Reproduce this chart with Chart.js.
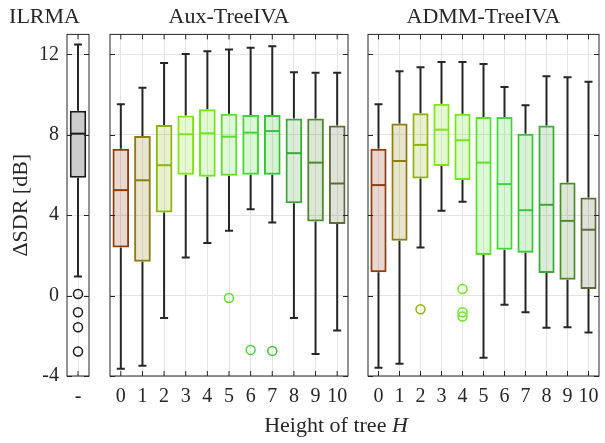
<!DOCTYPE html>
<html>
<head>
<meta charset="utf-8">
<script src="https://cdn.jsdelivr.net/npm/chart.js@4.4.1/dist/chart.umd.min.js"></script>
<style>
  body { margin: 0; background: #fff; }
  #wrap { position: relative; width: 605px; height: 443px; overflow: hidden; }
  canvas { position: absolute; top: 0; }
  #xtitle {
    position: absolute; left: 0; width: 672px; top: 412px;
    text-align: center; color: #262626;
    font: 22px "Liberation Serif", "Times New Roman", serif;
  }
</style>
</head>
<body>
<div id="wrap">
  <canvas id="cA" width="156" height="443" style="left:0px"></canvas>
  <canvas id="cB" width="255" height="443" style="left:100px"></canvas>
  <canvas id="cC" width="247" height="443" style="left:358px"></canvas>
  <div id="xtitle">Height of tree <i>H</i></div>
</div>
<script>
// ---- data ----
const heights = ['0', '1', '2', '3', '4', '5', '6', '7', '8', '9', '10'];
const yTicks = [-4, 0, 4, 8, 12];

// ILRMA (single box)
const ilrmaMin = [0.95];
const ilrmaQ1 = [5.87];
const ilrmaMed = [8.06];
const ilrmaQ3 = [9.2];
const ilrmaMax = [12.5];
const ilrmaOutV = [0.08, -0.83, -1.57, -2.78];

// Aux-TreeIVA
const auxMin = [-3.64, -3.49, -1.11, 1.90, 2.62, 3.23, 4.30, 3.64, -1.11, -2.90, -1.74];
const auxQ1 = [2.40, 1.69, 4.14, 6.01, 5.92, 5.96, 6.01, 6.01, 4.60, 3.69, 3.56];
const auxMed = [5.25, 5.74, 6.49, 8.03, 8.08, 7.91, 8.11, 8.19, 7.09, 6.62, 5.58];
const auxQ3 = [7.31, 7.94, 8.49, 8.97, 9.27, 9.05, 8.99, 8.99, 8.82, 8.82, 8.47];
const auxMax = [9.52, 10.34, 11.58, 12.03, 12.16, 12.25, 12.33, 12.41, 11.12, 11.09, 11.09];
const auxOutH = ['5', '6', '7'];
const auxOutV = [-0.12, -2.70, -2.75];

// ADMM-TreeIVA
const admmMin = [-3.59, -3.39, 2.40, 4.22, 4.67, -3.09, -0.46, -0.83, -1.60, -1.57, -1.84];
const admmQ1 = [1.16, 2.73, 5.83, 6.45, 5.76, 2.02, 2.28, 2.13, 1.13, 0.79, 0.33];
const admmMed = [5.50, 6.70, 7.50, 8.26, 7.73, 6.62, 5.55, 4.25, 4.52, 3.72, 3.28];
const admmQ3 = [7.31, 8.57, 9.07, 9.55, 9.05, 8.89, 8.89, 8.06, 8.47, 5.63, 4.88];
const admmMax = [9.52, 11.17, 11.37, 11.63, 11.63, 11.53, 10.38, 9.48, 10.92, 10.87, 10.64];
const admmOutH = ['2', '4', '4', '4'];
const admmOutV = [-0.68, 0.33, -0.83, -1.04];

// one colour per tree height
const heightColors = ['#8b3e10', '#8c7d0e', '#8cb40c', '#7fe514', '#6ce81e', '#5adf2c',
                      '#44d636', '#36c534', '#3fa63a', '#4e8b2c', '#5c6c3a'];

const AXIS = '#262626';
const SERIF = '"Liberation Serif", "Times New Roman", serif';
Chart.defaults.font.family = SERIF;
Chart.defaults.color = AXIS;

function tint(hex, a) {
  const n = parseInt(hex.slice(1), 16);
  return 'rgba(' + (n >> 16) + ',' + ((n >> 8) & 255) + ',' + (n & 255) + ',' + a + ')';
}

// whiskers, medians, frame and inward tick marks
const boxExtras = {
  id: 'boxExtras',
  beforeDatasetsDraw(chart, args, o) {
    const { ctx, scales: { x, y } } = chart;
    ctx.save();
    ctx.strokeStyle = AXIS;
    ctx.lineWidth = 2;
    o.min.forEach((mn, i) => {
      const px = x.getPixelForValue(i);
      const yMin = y.getPixelForValue(mn), yMax = y.getPixelForValue(o.max[i]);
      ctx.beginPath();
      ctx.moveTo(px, y.getPixelForValue(o.q1[i])); ctx.lineTo(px, yMin);
      ctx.moveTo(px, y.getPixelForValue(o.q3[i])); ctx.lineTo(px, yMax);
      ctx.moveTo(px - 4, yMin); ctx.lineTo(px + 4, yMin);
      ctx.moveTo(px - 4, yMax); ctx.lineTo(px + 4, yMax);
      ctx.stroke();
    });
    ctx.restore();
  },
  afterDatasetsDraw(chart, args, o) {
    const { ctx, scales: { x, y } } = chart;
    const bars = chart.getDatasetMeta(0).data;
    ctx.save();
    ctx.lineWidth = 2;
    o.med.forEach((md, i) => {
      const px = x.getPixelForValue(i);
      const half = bars[i].width / 2 - 1;
      const py = y.getPixelForValue(md);
      ctx.strokeStyle = o.colors[i];
      ctx.beginPath();
      ctx.moveTo(px - half, py); ctx.lineTo(px + half, py);
      ctx.stroke();
    });
    ctx.restore();
  },
  afterDraw(chart) {
    const { ctx, chartArea: a, scales: { x, y } } = chart;
    ctx.save();
    ctx.strokeStyle = AXIS;
    ctx.lineWidth = 1;
    ctx.strokeRect(a.left, a.top, a.right - a.left, a.bottom - a.top);
    ctx.beginPath();
    x.ticks.forEach((t, i) => {
      const px = x.getPixelForTick(i);
      ctx.moveTo(px, a.top); ctx.lineTo(px, a.top + 5);
      ctx.moveTo(px, a.bottom); ctx.lineTo(px, a.bottom - 5);
    });
    y.ticks.forEach(t => {
      const py = Math.round(y.getPixelForValue(t.value)) + 0.5;
      ctx.moveTo(a.left, py); ctx.lineTo(a.left + 5, py);
      ctx.moveTo(a.right, py); ctx.lineTo(a.right - 5, py);
    });
    ctx.stroke();
    ctx.restore();
  }
};

function makePanel(id, opt) {
  const q1 = opt.q1, q3 = opt.q3;
  const outliers = opt.outV.map((v, k) => ({ x: opt.outH[k], y: v }));
  const outColors = opt.outH.map(h => opt.colors[opt.labels.indexOf(h)]);
  new Chart(document.getElementById(id), {
    type: 'bar',
    data: {
      labels: opt.labels,
      datasets: [
        {
          data: q1.map((v, i) => [v, q3[i]]),
          backgroundColor: opt.fills,
          borderColor: opt.colors,
          borderWidth: 2,
          borderSkipped: false,
          categoryPercentage: 1,
          barPercentage: opt.barPct
        },
        {
          type: 'line',
          data: outliers,
          showLine: false,
          pointStyle: 'circle',
          pointRadius: 4.5,
          pointBorderWidth: 1.5,
          pointBorderColor: outColors,
          pointBackgroundColor: 'rgba(0,0,0,0)'
        }
      ]
    },
    options: {
      responsive: false,
      animation: false,
      events: [],
      layout: { padding: { left: 0, right: opt.padRight, top: 0, bottom: 0 } },
      plugins: {
        legend: { display: false },
        tooltip: { enabled: false },
        title: {
          display: true,
          text: opt.title,
          fullSize: opt.titleFull,
          color: AXIS,
          font: { size: 22, weight: 'normal' },
          padding: { top: 4, bottom: 4 }
        },
        boxExtras: {
          min: opt.min, q1: q1, med: opt.med, q3: q3, max: opt.max, colors: opt.medColors
        }
      },
      scales: {
        x: {
          grid: { offset: false, color: '#e4e4e4', drawTicks: false },
          border: { display: false },
          ticks: { font: { size: 20 }, padding: 9, maxRotation: 0, autoSkip: false },
          afterFit(s) { s.height = 67; s.paddingLeft = 0; s.paddingRight = 0; }
        },
        y: {
          min: -4,
          max: 13,
          grid: { color: '#e4e4e4', drawTicks: false },
          border: { display: false },
          afterBuildTicks(s) { s.ticks = yTicks.map(v => ({ value: v })); },
          ticks: { display: opt.showY, font: { size: 20 }, padding: 8 },
          title: {
            display: opt.showY,
            text: 'ΔSDR [dB]',
            font: { size: 22 },
            padding: { top: 8, bottom: 0 }
          },
          afterFit(s) { s.width = opt.yWidth; }
        }
      }
    },
    plugins: [boxExtras]
  });
}

// canvas A is 156 wide so a full-width title centres on the 67..89 box
makePanel('cA', {
  title: 'ILRMA', titleFull: true, labels: ['-'],
  min: ilrmaMin, q1: ilrmaQ1, med: ilrmaMed, q3: ilrmaQ3, max: ilrmaMax,
  outH: ilrmaOutV.map(() => '-'), outV: ilrmaOutV,
  colors: ['#1a1a1a'], fills: ['#cccccc'], medColors: ['#1a1a1a'],
  barPct: 0.75, showY: true, yWidth: 67, padRight: 67
});

makePanel('cB', {
  title: 'Aux-TreeIVA', titleFull: false, labels: heights,
  min: auxMin, q1: auxQ1, med: auxMed, q3: auxQ3, max: auxMax,
  outH: auxOutH, outV: auxOutV,
  colors: heightColors, fills: heightColors.map(c => tint(c, 0.2)), medColors: heightColors,
  barPct: 0.77, showY: false, yWidth: 10, padRight: 7
});

makePanel('cC', {
  title: 'ADMM-TreeIVA', titleFull: false, labels: heights,
  min: admmMin, q1: admmQ1, med: admmMed, q3: admmQ3, max: admmMax,
  outH: admmOutH, outV: admmOutV,
  colors: heightColors, fills: heightColors.map(c => tint(c, 0.2)), medColors: heightColors,
  barPct: 0.77, showY: false, yWidth: 10, padRight: 0
});
</script>
</body>
</html>
